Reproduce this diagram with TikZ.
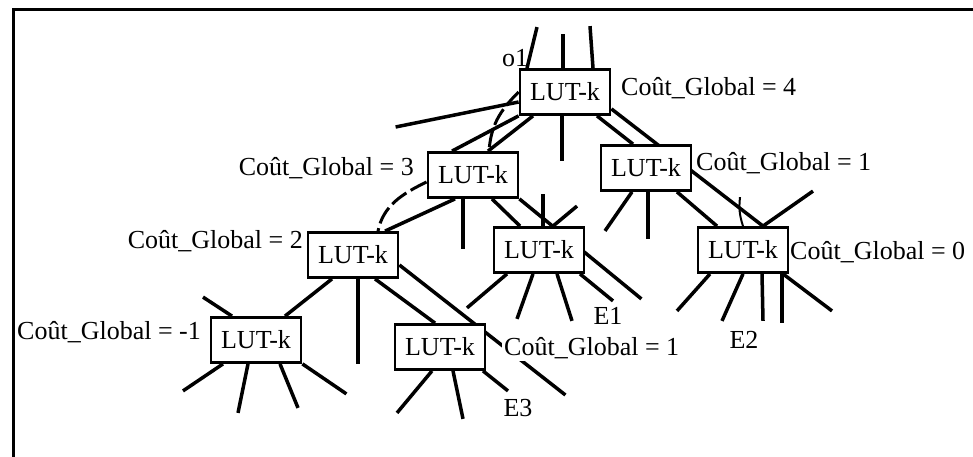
\documentclass[tikz,border=0pt]{standalone}
\usepackage{fontspec}
\setmainfont{Liberation Serif}
\usetikzlibrary{backgrounds,calc}

\begin{document}
\begin{tikzpicture}[x=1pt, y=-1pt,
    % Box and line styles
    lutbox/.style={draw=black, line width=2.8pt, fill=white, minimum width=90pt, minimum height=45pt, inner sep=0pt, font=\fontsize{26}{30}\selectfont},
    costlabel/.style={inner sep=2pt, font=\fontsize{26}{30}\selectfont},
    wire/.style={line width=3.5pt},
    thinwire/.style={line width=2pt},
    critpath/.style={line width=3pt, dash pattern=on 18pt off 5pt},
    frameline/.style={line width=3pt}
]
\useasboundingbox (0,0) rectangle (973,457);

% 1. LUT boxes
\node[lutbox] (lut1) at (565,92) {LUT-k};
\node[lutbox] (lut2) at (473,175) {LUT-k};
\node[lutbox] (lut3) at (646,168) {LUT-k};
\node[lutbox] (lut4) at (353,255) {LUT-k};
\node[lutbox] (lut5) at (539,250) {LUT-k};
\node[lutbox] (lut6) at (743,250) {LUT-k};
\node[lutbox] (lut7) at (256,340) {LUT-k};
\node[lutbox] (lut8) at (440,347) {LUT-k};

% 2. Cost labels
\node[costlabel, anchor=west] (cost1) at (619,88) {Coût\_Global = 4};
\node[costlabel, anchor=east] (cost2) at (416,168) {Coût\_Global = 3};
\node[costlabel, anchor=west] (cost3) at (694,163) {Coût\_Global = 1};
\node[costlabel, anchor=east] (cost4) at (305,241) {Coût\_Global = 2};
\node[costlabel, anchor=west] (cost6) at (788,252) {Coût\_Global = 0};
\node[costlabel, anchor=west] (cost7) at (15,332) {Coût\_Global = -1};
\node[costlabel, anchor=west, fill=white] (cost8) at (502,348) {Coût\_Global = 1};

% 3. Other names
\node[costlabel] (o1) at (515,58) {o1};
\node[costlabel] (e1) at (608,316) {E1};
\node[costlabel] (e2) at (744,340) {E2};
\node[costlabel] (e3) at (518,408) {E3};

\begin{scope}[on background layer]
% 4. Frame (top and left only)
\draw[frameline] (13,457) -- (13,10) -- (973,10);

% 5. Top LUT
\draw[wire] ([xshift=-38pt]lut1.north) -- ++(10,-41);
\draw[wire] ([xshift=-2pt]lut1.north) -- ++(0,-34);
\draw[wire] ([xshift=28pt]lut1.north) -- ++(-3,-42);
\draw[wire] ($(lut1.west)+(0,10)$) -- ++(-123,25);
\draw[wire] (lut1.south west) -- ([xshift=-21pt]lut2.north);
\draw[wire] ([xshift=-32pt]lut1.south) -- ([xshift=15pt]lut2.north);
\draw[critpath] (lut1.west) .. controls +(-20,20) and +(2,-25) .. ([xshift=16pt]lut2.north);
\draw[wire] ([xshift=-3pt]lut1.south) -- ++(0,45);
\draw[wire] ([xshift=32pt]lut1.south) -- ([xshift=-13pt]lut3.north);
\draw[wire] ($(lut1.south east)+(0,-7)$) -- ([xshift=20pt]lut6.north);

% 6. LUT with cost 3
\draw[critpath] ($(lut2.west)+(0,7)$) .. controls +(-25,12) and +(5,-25) .. ([xshift=25pt]lut4.north);
\draw[wire] ([xshift=-10pt]lut2.south) -- ++(0,50);
\draw[wire] ([xshift=-18pt]lut2.south) -- ([xshift=32pt]lut4.north);
\draw[wire] ([xshift=19pt]lut2.south) -- ([xshift=-19pt]lut5.north);
\draw[wire] (lut2.south east) -- ++(122,100);

% 7. LUT with cost 1 (upper)
\draw[wire] ([xshift=-14pt]lut3.south) -- ++(-27,39);
\draw[wire] ([xshift=2pt]lut3.south) -- ++(0,47);
\draw[wire] ([xshift=31pt]lut3.south) -- ([xshift=-26pt]lut6.north);

% 8. LUT with cost 0
\draw[thinwire] (lut6.north) to[bend left=12] ++(-3,-29);
\draw[wire] ([xshift=20pt]lut6.north) -- ++(50,-35);
\draw[wire] ([xshift=-33pt]lut6.south) -- ++(-33,37);
\draw[wire] (lut6.south) -- ++(-21,47);
\draw[wire] ([xshift=19pt]lut6.south) -- ++(1,47);
\draw[wire] ([xshift=39pt]lut6.south) -- ++(0,49);
\draw[wire] ([xshift=40pt]lut6.south) -- ++(49,37);

% 9. Middle LUT
\draw[wire] ([xshift=4pt]lut5.north) -- ++(0,-32);
\draw[wire] ([xshift=14pt]lut5.north) -- ++(24,-20);
\draw[wire] ([xshift=-32pt]lut5.south) -- ++(-40,34);
\draw[wire] ([xshift=-6pt]lut5.south) -- ++(-16,45);
\draw[wire] ([xshift=18pt]lut5.south) -- ++(15,47);
\draw[wire] ([xshift=41pt]lut5.south) -- ++(33,27);

% 10. LUT with cost 2
\draw[wire] ([xshift=5pt]lut4.south) -- ++(0,85);
\draw[wire] ([xshift=-21pt]lut4.south) -- ([xshift=29pt]lut7.north);
\draw[wire] ([xshift=22pt]lut4.south) -- ([xshift=-5pt]lut8.north);
\draw[wire] ($(lut4.east)+(0,10)$) -- ++(166,130);

% 11. LUT with cost -1
\draw[wire] ([xshift=-24pt]lut7.north) -- ++(-29,-19);
\draw[wire] ([xshift=-33pt]lut7.south) -- ++(-40,27);
\draw[wire] ([xshift=-8pt]lut7.south) -- ++(-10,49);
\draw[wire] ([xshift=24pt]lut7.south) -- ++(18,44);
\draw[wire] (lut7.south east) -- ++(44,30);

% 12. LUT with cost 1 (lower)
\draw[wire] ([xshift=-8pt]lut8.south) -- ++(-35,42);
\draw[wire] ([xshift=13pt]lut8.south) -- ++(10,48);
\draw[wire] ([xshift=43pt]lut8.south) -- ++(25,20);
\end{scope}

\end{tikzpicture}
\end{document}
